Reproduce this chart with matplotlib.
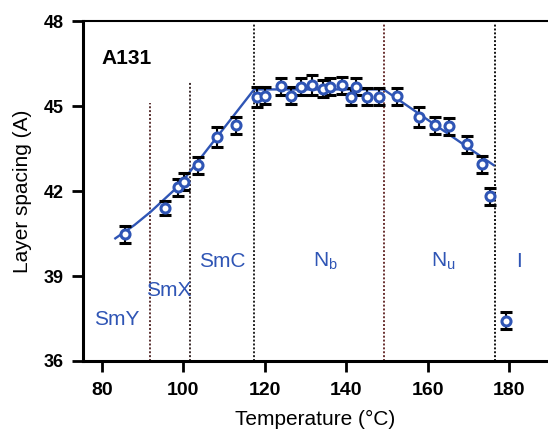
import matplotlib
matplotlib.use("Agg")
import matplotlib.pyplot as plt

plt.rcParams['font.family'] = ['Liberation Sans', 'DejaVu Sans']

# Data
temperature = [85.6, 95.6, 98.8, 100.2, 103.6, 108.3, 112.9, 118.2, 120.1, 124.0,
               126.5, 129.0, 131.6, 134.3, 136.1, 139.1, 141.2, 142.4, 145.1, 148.2,
               152.5, 158.0, 161.9, 165.2, 169.8, 173.4, 175.4, 179.3]
spacing = [40.48, 41.39, 42.13, 42.33, 42.92, 43.90, 44.33, 45.33, 45.36, 45.70,
           45.36, 45.68, 45.74, 45.62, 45.68, 45.74, 45.33, 45.68, 45.33, 45.33,
           45.35, 44.62, 44.33, 44.29, 43.66, 42.95, 41.82, 37.42]
spacing_err = [0.30, 0.25, 0.30, 0.30, 0.30, 0.35, 0.30, 0.35, 0.30, 0.30,
               0.30, 0.30, 0.35, 0.30, 0.30, 0.30, 0.30, 0.30, 0.30, 0.30,
               0.30, 0.35, 0.30, 0.30, 0.30, 0.30, 0.30, 0.30]

fit_T = [83.3, 88.0, 92.0, 99.0, 117.4, 149.2, 176.2]
fit_d = [40.33, 40.80, 41.27, 42.20, 45.59, 45.59, 42.92]

transition_T = [91.7, 101.7, 117.25, 149.3, 176.6]
transition_top = [45.1, 45.9, 47.9, 47.9, 47.9]
transition_colors = ['#5a3030', '#3a2a2a', '#222222', '#6a3030', '#111111']

phase_labels = ['SmY', 'SmX', 'SmC', r'N$_\mathregular{b}$', r'N$_\mathregular{u}$', 'I']
phase_T = [83.7, 96.4, 109.6, 134.9, 163.8, 182.5]
phase_d = [37.48, 38.5, 39.53, 39.53, 39.53, 39.53]

blue = '#2f55b5'

fig = plt.figure(figsize=(5.48, 4.32), dpi=100)
ax = fig.add_axes([0.151, 0.1644, 0.849, 0.7866])

for t, top, c in zip(transition_T, transition_top, transition_colors):
    ax.plot([t, t], [36, top], linestyle=(0, (1, 1)), color=c, linewidth=1.4, zorder=1)

ax.plot(fit_T, fit_d, color=blue, linewidth=1.7, zorder=2)
ax.errorbar(temperature, spacing, yerr=spacing_err, fmt='o', color=blue,
            markerfacecolor='white', markeredgecolor=blue, markersize=6.5,
            markeredgewidth=2.2, ecolor='black', elinewidth=1.5, capsize=4.5,
            capthick=1.5, zorder=3)

for lab, t, d in zip(phase_labels, phase_T, phase_d):
    ax.text(t, d, lab, color=blue, fontsize=15, ha='center', va='center')

ax.text(86.1, 46.68, 'A131', fontsize=15, fontweight='bold', ha='center', va='center')

ax.set_xlim(75.3, 189.6)
ax.set_ylim(36, 48)
ax.set_xticks([80, 100, 120, 140, 160, 180])
ax.set_yticks([36, 39, 42, 45, 48])
ax.tick_params(axis='both', direction='out', length=8, width=2)
ax.tick_params(axis='x', labelsize=14, pad=7)
ax.tick_params(axis='y', labelsize=13, pad=6)
for lbl in ax.get_xticklabels() + ax.get_yticklabels():
    lbl.set_fontweight('bold')

ax.spines['right'].set_visible(False)
ax.spines['left'].set_linewidth(2.2)
ax.spines['bottom'].set_linewidth(2.2)
ax.spines['top'].set_linewidth(1.5)

ax.set_xlabel('Temperature (°C)', fontsize=15, labelpad=8)
ax.set_ylabel('Layer spacing (A)', fontsize=15, labelpad=8)

fig.savefig('out.png', dpi=100)
